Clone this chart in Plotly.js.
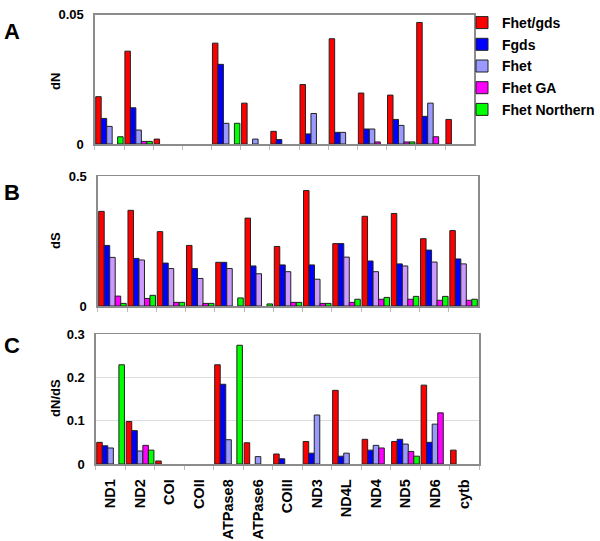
<!DOCTYPE html>
<html>
<head>
<meta charset="utf-8">
<script src="https://cdn.plot.ly/plotly-3.0.1.min.js"></script>
<style>html,body{margin:0;padding:0;background:#fff;}#chart{width:600px;height:541px;}</style>
</head>
<body>
<div id="chart"></div>
<script>
const genes = ['ND1','ND2','COI','COII','ATPase8','ATPase6','COIII','ND3','ND4L','ND4','ND5','ND6','cytb'];
const seriesNames = ['Fhet/gds','Fgds','Fhet','Fhet GA','Fhet Northern'];

// Panel A: dN
const fhetgds_dN = [0.0183, 0.0359, 0.0019, null, 0.039, 0.0158, 0.0049, 0.023, 0.0407, 0.0197, 0.0189, 0.047, 0.0095];
const fgds_dN    = [0.0099, 0.014, null, null, 0.0308, null, 0.0017, 0.0039, 0.0045, 0.0058, 0.0095, 0.0107, null];
const fhet_dN    = [0.0068, 0.0054, null, null, 0.008, 0.0019, null, 0.0118, 0.0045, 0.0058, 0.0072, 0.0158, null];
const fhetGA_dN  = [null, 0.001, null, null, null, null, null, null, null, 0.0008, 0.0008, 0.0028, null];
const fhetN_dN   = [0.0028, 0.001, null, null, 0.008, null, null, null, null, null, 0.0008, null, null];

// Panel B: dS
const fhetgds_dS = [0.364, 0.368, 0.286, 0.233, 0.168, 0.338, 0.229, 0.444, 0.240, 0.345, 0.356, 0.259, 0.290];
const fgds_dS    = [0.233, 0.183, 0.165, 0.144, 0.168, 0.154, 0.158, 0.158, 0.240, 0.173, 0.162, 0.215, 0.181];
const fhet_dS    = [0.187, 0.177, 0.144, 0.106, 0.144, 0.124, 0.132, 0.103, 0.188, 0.132, 0.154, 0.169, 0.162];
const fhetGA_dS  = [0.038, 0.029, 0.014, 0.010, null, null, 0.014, 0.010, 0.014, 0.026, 0.026, 0.022, 0.022];
const fhetN_dS   = [0.010, 0.041, 0.014, 0.010, 0.031, 0.008, 0.014, 0.010, 0.026, 0.033, 0.037, 0.037, 0.026];

// Panel C: dN/dS
const fhetgds_r = [0.050, 0.098, 0.007, null, 0.229, 0.049, 0.023, 0.052, 0.170, 0.057, 0.052, 0.182, 0.032];
const fgds_r    = [0.042, 0.077, null, null, 0.184, null, 0.012, 0.025, 0.018, 0.032, 0.057, 0.050, null];
const fhet_r    = [0.037, 0.030, null, null, 0.056, 0.017, null, 0.113, 0.025, 0.043, 0.046, 0.092, null];
const fhetGA_r  = [null, 0.043, null, null, null, null, null, null, null, 0.037, 0.029, 0.118, null];
const fhetN_r   = [0.229, 0.032, null, null, 0.274, null, null, null, null, null, 0.018, null, null];

const panelLetters = ['A','B','C'];
const yTitles = ['dN','dS','dN/dS'];

const colorsAC = ['#FF0000','#0000FF','#9999FF','#FF00FF','#00FF00'];
const colorsB  = ['#FF0000','#0000FF','#CC99FF','#FF00FF','#00FF00'];

const panels = [
  {data:[fhetgds_dN,fgds_dN,fhet_dN,fhetGA_dN,fhetN_dN], x:'x', y:'y', colors:colorsAC, legend:true},
  {data:[fhetgds_dS,fgds_dS,fhet_dS,fhetGA_dS,fhetN_dS], x:'x2', y:'y2', colors:colorsB, legend:false},
  {data:[fhetgds_r,fgds_r,fhet_r,fhetGA_r,fhetN_r], x:'x3', y:'y3', colors:colorsAC, legend:false}
];

const traces = [];
panels.forEach(p => {
  p.data.forEach((vals, i) => {
    traces.push({
      type:'bar', x:genes, y:vals, name:seriesNames[i],
      xaxis:p.x, yaxis:p.y, showlegend:p.legend, legendgroup:'g'+i,
      marker:{color:p.colors[i], line:{color:'#222', width:1}},
      hoverinfo:'x+y+name'
    });
  });
});

const fam = 'Arial, "Liberation Sans", sans-serif';
const font = {family:fam, size:13, color:'#000', weight:'bold'};
const frame = {showline:true, mirror:true, linecolor:'#8c8c8c', linewidth:1.5};

function xax(domain, anchor, showLabels){
  return Object.assign({
    domain:domain, anchor:anchor, type:'category', range:[-0.5, 12.5],
    ticks:'outside', tickson:'boundaries', ticklen:4, tickcolor:'#bbb',
    showticklabels:showLabels, tickangle:-90, ticklabelstandoff:8,
    tickfont:{family:fam, size:14.5, weight:'bold', color:'#000'},
    showgrid:false, zeroline:false, fixedrange:true
  }, frame);
}
function yax(domain, anchor, range, tickvals, ticktext, grid){
  return Object.assign({
    domain:domain, anchor:anchor, range:range, tickvals:tickvals, ticktext:ticktext,
    ticks:'', ticklabelstandoff:7,
    tickfont:{family:fam, size:13, weight:'bold', color:'#000'},
    showgrid:grid, gridcolor:'#dddddd', zeroline:false, fixedrange:true
  }, frame);
}

const letterY = [32, 192, 345];
const titleY = [81, 240, 398];
const annotations = [];
panelLetters.forEach((t, i) => {
  annotations.push({text:t, x:12/600, y:1-letterY[i]/541, xref:'paper', yref:'paper', xanchor:'center', yanchor:'middle',
    showarrow:false, font:{family:fam, size:22, weight:'bold', color:'#000'}});
});
yTitles.forEach((t, i) => {
  annotations.push({text:t, x:55/600, y:1-titleY[i]/541, xref:'paper', yref:'paper', xanchor:'center', yanchor:'middle',
    textangle:-90, showarrow:false, font:{family:fam, size:13, weight:'bold', color:'#000'}});
});

const layout = {
  width:600, height:541,
  margin:{l:0, r:0, t:0, b:0},
  paper_bgcolor:'#fff', plot_bgcolor:'#fff',
  font:font,
  barmode:'group', bargap:0.06, bargroupgap:0,
  xaxis: xax([95/600, 475/600], 'y', false),
  xaxis2: xax([98/600, 479/600], 'y2', false),
  xaxis3: xax([96/600, 480/600], 'y3', true),
  yaxis: yax([1-144/541, 1-14.7/541], 'x', [0, 0.05], [0, 0.05], ['0','0.05'], false),
  yaxis2: yax([1-306/541, 1-176/541], 'x2', [0, 0.5], [0, 0.5], ['0','0.5'], false),
  yaxis3: yax([1-464/541, 1-334/541], 'x3', [0, 0.3], [0, 0.1, 0.2, 0.3], ['0','0.1','0.2','0.3'], true),
  showlegend:true,
  legend:{
    x:463/600, y:1-7/541, xanchor:'left', yanchor:'top',
    font:{family:fam, size:14, weight:'bold', color:'#000'},
    traceorder:'grouped', tracegroupgap:0.5, bgcolor:'rgba(0,0,0,0)', borderwidth:0
  },
  annotations:annotations
};

Plotly.newPlot('chart', traces, layout, {displayModeBar:false, staticPlot:true});
</script>
</body>
</html>
